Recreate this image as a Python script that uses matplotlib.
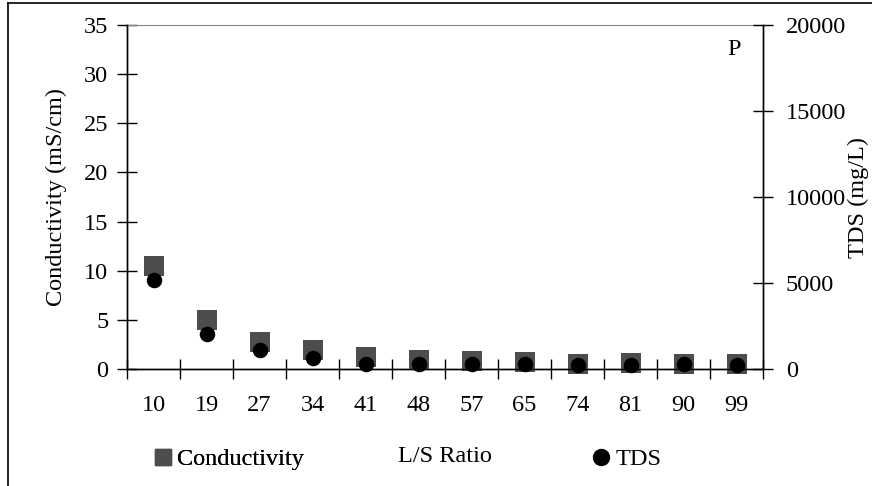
import matplotlib

matplotlib.use("Agg")
import matplotlib.pyplot as plt
from matplotlib.lines import Line2D

ls_ratio = ["10", "19", "27", "34", "41", "48", "57", "65", "74", "81", "90", "99"]
conductivity = [10.5, 5.0, 2.7, 1.9, 1.2, 0.9, 0.8, 0.7, 0.5, 0.6, 0.5, 0.5]
tds = [5150, 2050, 1100, 650, 300, 290, 290, 300, 250, 250, 280, 250]

SQ_COLOR = "#4d4d4d"
FS = 17.5

plt.rcParams["font.family"] = ["Liberation Serif", "DejaVu Serif"]

fig = plt.figure(figsize=(8.72, 4.86), dpi=100)
ax = fig.add_axes([127 / 872, 1 - 369 / 486, 636 / 872, 344 / 486])
ax2 = ax.twinx()

x = list(range(len(ls_ratio)))
ax.scatter(x, conductivity, marker="s", s=190, color=SQ_COLOR, zorder=3,
           clip_on=False, linewidths=0)
ax2.scatter(x, tds, marker="o", s=125, color="black", zorder=4,
            clip_on=False, linewidths=0)

ax.set_xlim(-0.5, len(ls_ratio) - 0.5)
ax.set_ylim(0, 35)
ax.set_yticks(range(0, 36, 5))
ax2.set_ylim(0, 20000)
ax2.set_yticks(range(0, 20001, 5000))

ax.set_xticks([i - 0.5 for i in range(len(ls_ratio) + 1)])
ax.set_xticklabels([])
ax.set_xticks(x, minor=True)
ax.set_xticklabels(ls_ratio, minor=True, fontsize=FS)
ax.tick_params(axis="x", which="major", direction="inout", length=15, width=1)
ax.tick_params(axis="x", which="minor", length=0, pad=19)
ax.tick_params(axis="y", direction="inout", length=15, width=1, labelsize=FS, pad=6)
ax2.tick_params(axis="y", direction="inout", length=15, width=1, labelsize=FS, pad=9)

ax.spines["top"].set_color("#888888")
ax2.spines["top"].set_visible(False)
for a in (ax, ax2):
    a.spines["left"].set_linewidth(1)
    a.spines["right"].set_linewidth(1)
    a.spines["bottom"].set_linewidth(1)

ax.set_ylabel("Conductivity (mS/cm)", fontsize=FS, labelpad=12)
ax2.set_ylabel("TDS (mg/L)", fontsize=FS, rotation=90, labelpad=1)
ax.set_xlabel("L/S Ratio", fontsize=FS, labelpad=21)

ax.text(0.955, 0.93, "P", transform=ax.transAxes, fontsize=FS, ha="center", va="center")

h1 = Line2D([], [], marker="s", color=SQ_COLOR, linestyle="none", markersize=11)
h2 = Line2D([], [], marker="o", color="black", linestyle="none", markersize=11.5)
leg1 = fig.legend([h1], ["Conductivity"], loc="center left",
                  bbox_to_anchor=(131 / 872, 1 - 459 / 486), frameon=False,
                  fontsize=FS, handlelength=0.8, handletextpad=0.2)
fig.add_artist(leg1)
fig.legend([h2], ["TDS"], loc="center left",
           bbox_to_anchor=(569 / 872, 1 - 459 / 486), frameon=False,
           fontsize=FS, handlelength=0.8, handletextpad=0.2)

# partial frame around the figure (left and top edges)
fig.add_artist(Line2D([8 / 872, 8 / 872], [0, 1 - 3 / 486], color="black", lw=1.2))
fig.add_artist(Line2D([8 / 872, 1], [1 - 3 / 486, 1 - 3 / 486], color="black", lw=1.2))

fig.savefig("out.png", dpi=100)
